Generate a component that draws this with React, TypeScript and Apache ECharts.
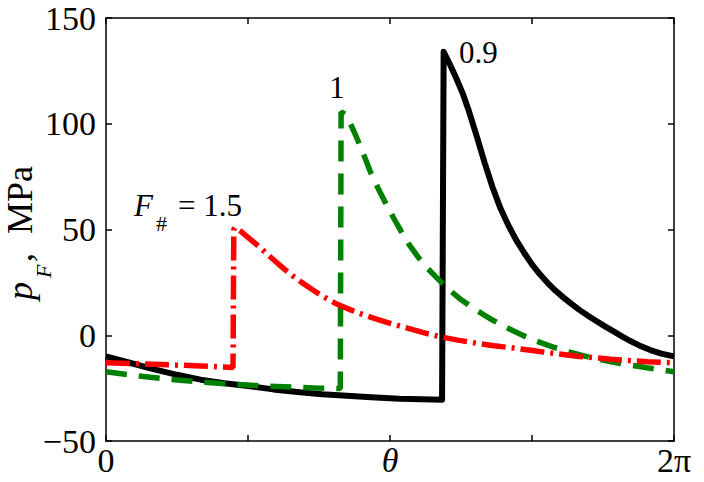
import React, { useEffect, useRef } from "react";
import * as echarts from "echarts";

// x in degrees (0 .. 360 = 2π)
const blackX = [0, 15, 30, 45, 60, 75, 90, 106, 123, 137, 150, 168, 186, 200, 213, 214, 218, 222, 226, 230, 235, 240, 245, 250, 255, 260, 265, 270, 275, 280, 285, 290, 295, 300, 306, 311, 316, 322, 327, 332, 338, 345, 352, 360];
const blackY = [-10, -13, -16, -18.7, -21, -22.7, -24, -25.6, -27, -27.9, -28.5, -29.3, -30, -30.3, -30.5, 134, 128, 121.5, 114.5, 106, 94, 81.5, 70, 60, 52, 45, 39, 33.5, 28.8, 24.7, 21, 17.8, 14.8, 12, 9, 6.6, 4.3, 1.7, -0.5, -2.6, -4.8, -7, -8.7, -10];

const greenX = [0, 20, 40, 60, 80, 100, 120, 135, 148.5, 149, 152.5, 158, 163, 168, 173.7, 178, 182, 187, 192.7, 198, 203.5, 210, 216, 224, 232, 239, 245, 251, 258, 265, 273, 283, 294, 307, 321, 332, 343, 352, 360];
const greenY = [-17.3, -19.2, -20.8, -22.1, -23.2, -24, -24.6, -25, -25.2, 105.6, 104, 95, 86, 76.5, 67.6, 61.4, 55.8, 49.2, 42.2, 36.8, 31.9, 26.9, 22.5, 17.4, 13.2, 9.9, 7.2, 4.7, 2.1, -0.3, -2.8, -5.5, -8, -10.5, -12.7, -14.1, -15.4, -16.4, -17.3];

const redX = [0, 20, 40, 60, 80.5, 81, 82, 86, 90, 97.6, 103, 108, 113, 118.5, 124, 129, 134, 140, 147, 155, 162, 169, 178, 186, 195, 203, 211.7, 223, 235, 246, 258, 269, 280, 290, 300, 310, 320, 332, 343, 352, 360];
const redY = [-13, -13.5, -14, -14.5, -15.2, 50, 51, 48.8, 46.3, 41.5, 37.8, 34.5, 31.3, 28, 25, 22.5, 20, 17.3, 14.5, 12, 10, 8.2, 6.1, 4.4, 2.5, 0.9, -0.7, -2.3, -3.8, -5, -6, -7.1, -8.2, -9.1, -10, -10.7, -11.3, -12, -12.5, -12.8, -13];

const xTickLabels: Record<number, string> = { 0: "0", 90: "", 180: "{i|θ}", 270: "", 360: "2π" };
const yTicks = { min: -50, max: 150, interval: 50 };

const FONT = "Liberation Serif";

const pairs = (xs: number[], ys: number[]) => xs.map((x, i) => [x, ys[i]]);

export default function App() {
  const ref = useRef<HTMLDivElement>(null);
  useEffect(() => {
    if (!ref.current) return;
    const chart = echarts.init(ref.current, null, { renderer: "svg" });
    const axisLine = { show: true, lineStyle: { color: "#000", width: 1.5 } };
    const axisTick = { show: true, inside: true, length: 6, lineStyle: { color: "#000", width: 1.5 } };
    chart.setOption({
      animation: false,
      backgroundColor: "#fff",
      grid: { left: 106, right: 30, top: 18, bottom: 41, containLabel: false },
      xAxis: [
        {
          type: "value",
          min: 0,
          max: 360,
          interval: 90,
          position: "bottom",
          axisLine: { ...axisLine, onZero: false },
          axisTick,
          splitLine: { show: false },
          axisLabel: {
            margin: 2,
            fontFamily: FONT,
            fontSize: 34,
            color: "#000",
            formatter: (v: number) => xTickLabels[Math.round(v)] ?? "",
            rich: { i: { fontFamily: FONT, fontSize: 34, fontStyle: "italic", color: "#000" } },
          },
        },
        {
          type: "value",
          min: 0,
          max: 360,
          interval: 90,
          position: "top",
          axisLine: { ...axisLine, onZero: false },
          axisTick,
          splitLine: { show: false },
          axisLabel: { show: false },
        },
      ],
      yAxis: [
        {
          type: "value",
          min: yTicks.min,
          max: yTicks.max,
          interval: yTicks.interval,
          position: "left",
          axisLine: { ...axisLine, onZero: false },
          axisTick,
          splitLine: { show: false },
          axisLabel: {
            margin: 10,
            fontFamily: FONT,
            fontSize: 34,
            color: "#000",
            formatter: (v: number) => String(v).replace("-", "\u2212"),
          },
        },
        {
          type: "value",
          min: yTicks.min,
          max: yTicks.max,
          interval: yTicks.interval,
          position: "right",
          axisLine: { ...axisLine, onZero: false },
          axisTick,
          splitLine: { show: false },
          axisLabel: { show: false },
        },
      ],
      series: [
        {
          name: "0.9",
          type: "line",
          data: pairs(blackX, blackY),
          showSymbol: false,
          symbol: "none",
          lineStyle: { color: "#000", width: 6, type: "solid", join: "round" },
          z: 2,
        },
        {
          name: "1",
          type: "line",
          data: pairs(greenX, greenY),
          showSymbol: false,
          symbol: "none",
          lineStyle: { color: "#008000", width: 5.5, type: [21, 12], cap: "butt" },
          z: 3,
        },
        {
          name: "1.5",
          type: "line",
          data: pairs(redX, redY),
          showSymbol: false,
          symbol: "none",
          lineStyle: { color: "#ff0000", width: 5.5, type: [24, 6, 3, 6], cap: "butt" },
          z: 4,
        },
      ],
      graphic: [
        {
          type: "group",
          x: 32,
          y: 300,
          rotation: Math.PI / 2,
          children: [
            { type: "text", x: 0, y: -12, style: { text: "p", fontFamily: FONT, fontSize: 36, fontStyle: "italic", fill: "#000", align: "left", verticalAlign: "middle" } },
            { type: "text", x: 22, y: 11, style: { text: "F", fontFamily: FONT, fontSize: 22, fontStyle: "italic", fill: "#000", align: "left", verticalAlign: "middle" } },
            { type: "text", x: 38, y: -12, style: { text: ",", fontFamily: FONT, fontSize: 36, fill: "#000", align: "left", verticalAlign: "middle" } },
            { type: "text", x: 66, y: -12, style: { text: "MPa", fontFamily: FONT, fontSize: 36, fill: "#000", align: "left", verticalAlign: "middle" } },
          ],
        },
        { type: "text", x: 459, y: 52, style: { text: "0.9", fontFamily: FONT, fontSize: 31, fill: "#000", align: "left", verticalAlign: "middle" } },
        { type: "text", x: 337, y: 87, style: { text: "1", fontFamily: FONT, fontSize: 31, fill: "#000", align: "center", verticalAlign: "middle" } },
        { type: "text", x: 134, y: 205, style: { text: "F", fontFamily: FONT, fontSize: 31, fontStyle: "italic", fill: "#000", align: "left", verticalAlign: "middle" } },
        { type: "text", x: 156, y: 223, style: { text: "#", fontFamily: FONT, fontSize: 22, fill: "#000", align: "left", verticalAlign: "middle" } },
        { type: "text", x: 178, y: 205, style: { text: "= 1.5", fontFamily: FONT, fontSize: 31, fill: "#000", align: "left", verticalAlign: "middle" } },
      ],
    });
    return () => chart.dispose();
  }, []);
  return <div ref={ref} style={{ width: 704, height: 482, position: "absolute", left: 0, top: 0 }} />;
}
